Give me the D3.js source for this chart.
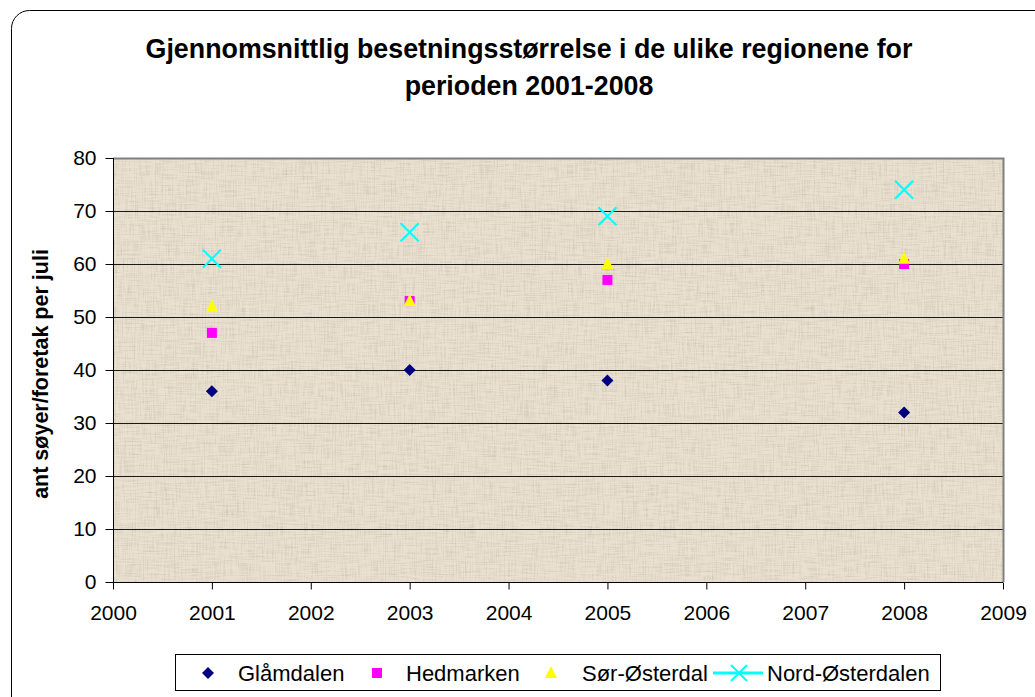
<!DOCTYPE html>
<html><head><meta charset="utf-8">
<script src="https://cdn.jsdelivr.net/npm/d3@7"></script>
<style>body{margin:0;background:#fff}svg{display:block}text{font-family:Arial,"Liberation Sans",sans-serif}</style>
</head><body>
<svg id="c" width="1035" height="697"></svg>
<script>
const years = [2001, 2003, 2005, 2008];
const glamdalen = [36, 40, 38, 32];
const hedmarken = [47, 53, 57, 60];
const sorOsterdal = [52, 53, 60, 61];
const nordOsterdalen = [61, 66, 69, 74];
const seriesNames = ["Glåmdalen", "Hedmarken", "Sør-Østerdal", "Nord-Østerdalen"];
const xTicks = [2000,2001,2002,2003,2004,2005,2006,2007,2008,2009];
const yTicks = [0,10,20,30,40,50,60,70,80];
const titleLines = ["Gjennomsnittlig besetningsstørrelse i de ulike regionene for","perioden 2001-2008"];
const yTitle = "ant søyer/foretak per juli";

const svg = d3.select("#c");
const L=113,R=1003,T=158,B=582;
const x = d3.scaleLinear().domain([2000,2009]).range([L,R]);
const y = d3.scaleLinear().domain([0,80]).range([B,T]);

// outer frame
svg.append("rect").attr("x",11.5).attr("y",10.5).attr("width",1060).attr("height",720).attr("rx",18)
  .attr("fill","#fff").attr("stroke","#000").attr("stroke-width",1);

// texture
const defs = svg.append("defs");
const f = defs.append("filter").attr("id","tex").attr("x",0).attr("y",0).attr("width","100%").attr("height","100%");
f.append("feTurbulence").attr("type","fractalNoise").attr("baseFrequency","0.9 0.05").attr("numOctaves",2).attr("seed",3).attr("result","n1");
f.append("feTurbulence").attr("type","fractalNoise").attr("baseFrequency","0.05 0.9").attr("numOctaves",2).attr("seed",7).attr("result","n2");
f.append("feComposite").attr("in","n1").attr("in2","n2").attr("operator","arithmetic").attr("k2",0.5).attr("k3",0.5).attr("result","n");
f.append("feColorMatrix").attr("in","n").attr("type","matrix")
  .attr("values","0 0 0 0 0.55  0 0 0 0 0.50  0 0 0 0 0.42  -2.6 0 0 0 1.45").attr("result","c");
f.append("feComposite").attr("in","c").attr("in2","SourceGraphic").attr("operator","atop");

svg.append("rect").attr("x",L).attr("y",T).attr("width",R-L).attr("height",B-T).attr("fill","#e9e0cf");
svg.append("rect").attr("x",L).attr("y",T).attr("width",R-L).attr("height",B-T).attr("fill","#e9e0cf").attr("filter","url(#tex)").attr("opacity",0.75);

// gridlines
svg.append("g").selectAll("line").data(yTicks.filter(v=>v>0&&v<80)).join("line")
  .attr("x1",L).attr("x2",R).attr("y1",d=>Math.round(y(d))+0.5).attr("y2",d=>Math.round(y(d))+0.5)
  .attr("stroke","#1a1a1a").attr("stroke-width",1);
// plot border top/right gray
svg.append("path").attr("d",`M${L},${T+0.5}H${R+0.5}V${B}`).attr("fill","none").attr("stroke","#808080").attr("stroke-width",2);

// axes
const yAxis = d3.axisLeft(y).tickValues(yTicks).tickSize(8).tickPadding(9).tickFormat(d3.format("d"));
const gy = svg.append("g").attr("transform",`translate(${L+0.5},0)`).call(yAxis);
const xAxis = d3.axisBottom(x).tickValues(xTicks).tickSize(7).tickPadding(16).tickFormat(d3.format("d"));
const gx = svg.append("g").attr("transform",`translate(0,${B+0.5})`).call(xAxis);
[gy,gx].forEach(g=>{g.attr("font-family",null).attr("font-size",null);g.selectAll("path,line").attr("stroke","#000");g.selectAll("text").attr("font-size",21).attr("fill","#000");});
gy.select(".domain").attr("d",`M0,${T}V${B}`);
gx.select(".domain").attr("d",`M${L},0H${R}`);

// title
svg.append("text").attr("text-anchor","middle").attr("font-weight","bold").attr("font-size",26.8)
  .selectAll("tspan").data(titleLines).join("tspan").attr("x",529).attr("y",(d,i)=>58+i*37).text(d=>d);
svg.append("text").attr("transform","translate(48,374) rotate(-90)").attr("text-anchor","middle")
  .attr("font-weight","bold").attr("font-size",21.5).text(yTitle);

// markers
function diamond(g,cx,cy,s){g.append("path").attr("d",`M${cx},${cy-s}L${cx+s},${cy}L${cx},${cy+s}L${cx-s},${cy}Z`).attr("fill","#000080");}
function square(g,cx,cy,s){g.append("rect").attr("x",cx-s).attr("y",cy-s).attr("width",2*s).attr("height",2*s).attr("fill","#ff00ff");}
function tri(g,cx,cy,s){g.append("path").attr("d",`M${cx},${cy-s-1}L${cx+s},${cy+s-1}L${cx-s},${cy+s-1}Z`).attr("fill","#ffff00");}
function cross(g,cx,cy,s){g.append("path").attr("d",`M${cx-s},${cy-s}L${cx+s},${cy+s}M${cx+s},${cy-s}L${cx-s},${cy+s}`).attr("stroke","#00ffff").attr("stroke-width",2).attr("fill","none");}

const mg = svg.append("g");
years.forEach((yr,i)=>{
  diamond(mg,x(yr),y(glamdalen[i]),6);
  square(mg,x(yr),y(hedmarken[i]),5);
  tri(mg,x(yr),y(sorOsterdal[i]),6);
  cross(mg,x(yr),y(nordOsterdalen[i]),9);
});

// legend
const lg = svg.append("g");
lg.append("rect").attr("x",175.5).attr("y",654.5).attr("width",765).attr("height",36).attr("fill","#fff").attr("stroke","#000");
const ly = 673;
diamond(lg,208,ly,6);
square(lg,377,ly,5);
tri(lg,551,ly,6);
lg.append("line").attr("x1",713).attr("x2",763).attr("y1",ly).attr("y2",ly).attr("stroke","#00ffff").attr("stroke-width",3);
cross(lg,739,ly,8);
const lx = [238,406,582,767];
lg.selectAll("text.l").data(seriesNames).join("text").attr("class","l").attr("x",(d,i)=>lx[i]).attr("y",ly+7.5)
  .attr("font-size",22).text(d=>d);
</script>
</body></html>
